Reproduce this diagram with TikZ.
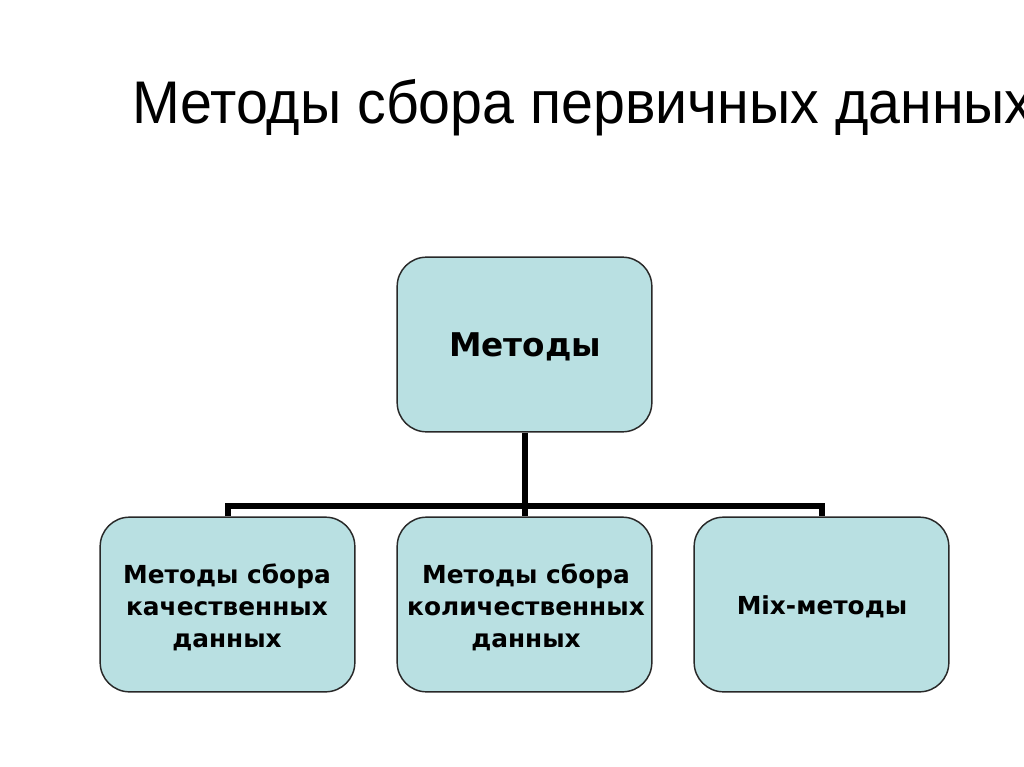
\documentclass[tikz,border=0pt]{standalone}
\usepackage{fontspec}
\setmainfont{Liberation Sans}
\newfontfamily\boxfont{DejaVu Sans}
\definecolor{boxfill}{RGB}{185,224,226}
\definecolor{boxline}{RGB}{40,40,40}
\begin{document}
\begin{tikzpicture}[x=0.75pt,y=-0.75pt,
  mbox/.style={draw=boxline,line width=1.1pt,fill=boxfill,rounded corners=22pt,
    minimum width=191pt,minimum height=131pt,inner sep=0pt},
  btext/.style={font=\boxfont\bfseries\fontsize{18.6}{24}\selectfont,align=center},
  conn/.style={line width=4.5pt,line join=miter}]
\useasboundingbox (0,0) rectangle (1024,767);
\fill[white] (0,0) rectangle (1024,767);
\node[anchor=base west,font=\fontsize{43}{48}\selectfont,inner sep=0pt] (title) at (132,123) {\scalebox{1}[1.05]{Методы сбора первичных данных}};
\node[mbox] (top) at (524.5,344.5) {};
\node[mbox] (left) at (227.5,604.5) {};
\node[mbox] (mid) at (524.5,604.5) {};
\node[mbox] (right) at (821.5,604.5) {};
\node[font=\boxfont\bfseries\fontsize{24.5}{28}\selectfont] (ttop) at (525,347) {Методы};
\node[btext] (tleft) at (227,607) {Методы сбора\\качественных\\данных};
\node[btext] (tmid) at (526,607) {Методы сбора\\количественных\\данных};
\node[btext] (tright) at (822,607) {Mix-методы};
\coordinate (bl) at (228,506);
\coordinate (bm) at (525,506);
\coordinate (br) at (822,506);
\draw[conn] (top.south -| bm) -- (bm);
\draw[conn] (left.north -| bl) -- (bl) -- (br) -- (right.north -| br);
\draw[conn] (bm) -- (mid.north -| bm);
\end{tikzpicture}
\end{document}
